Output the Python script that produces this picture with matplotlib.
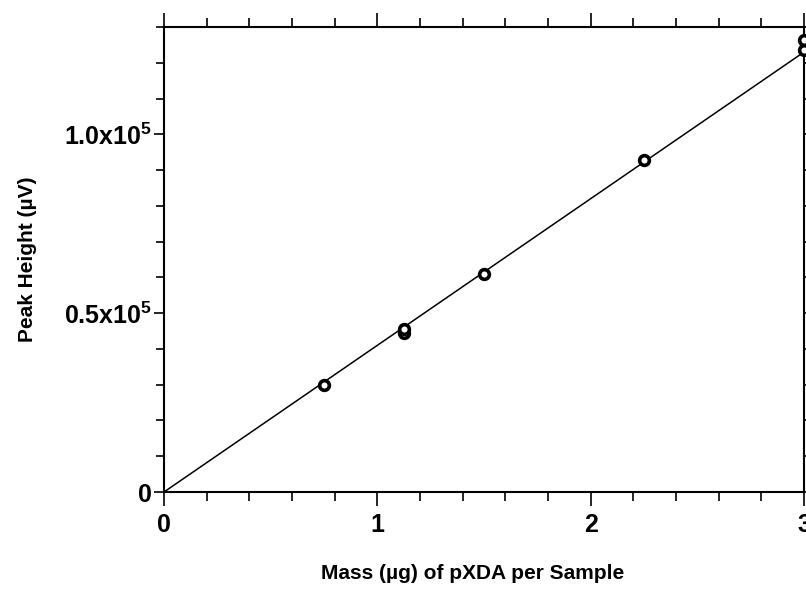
#!/usr/bin/env python3
"""Calibration curve: peak height vs. mass of pXDA per sample."""

import matplotlib
matplotlib.use("Agg")
import matplotlib.pyplot as plt
import matplotlib.ticker as mticker

plt.rcParams["font.family"] = ["Liberation Sans", "DejaVu Sans"]
plt.rcParams["font.weight"] = "bold"
plt.rcParams["mathtext.fontset"] = "custom"
plt.rcParams["mathtext.rm"] = "Liberation Sans:bold"
plt.rcParams["mathtext.it"] = "Liberation Sans:bold"
plt.rcParams["mathtext.bf"] = "Liberation Sans:bold"

# measured standards (mass in ug, peak height in uV)
mass = [0.75, 1.125, 1.125, 1.5, 2.25, 3.0, 3.0]
peak = [0.30e5, 0.445e5, 0.457e5, 0.61e5, 0.927e5, 1.236e5, 1.264e5]

# least-squares line through the origin
fit_x = [0.0, 3.0]
fit_y = [0.0, 1.23e5]

x_ticks = [0, 1, 2, 3]
y_ticks = [0, 0.5e5, 1.0e5]
y_tick_labels = ["0", r"0.5x10$^5$", r"1.0x10$^5$"]


def main():
    fig = plt.figure(figsize=(8.06, 5.95), dpi=100)
    ax = fig.add_axes([164 / 806, 1 - 492 / 595, 640 / 806, 465 / 595])

    ax.plot(fit_x, fit_y, color="black", linewidth=1.1, zorder=2)
    ax.plot(mass, peak, linestyle="none", marker="o", ms=7,
            mfc="white", mec="black", mew=2.6, clip_on=False, zorder=3)

    ax.set_xlim(0, 3)
    ax.set_ylim(0, 1.3e5)
    ax.set_xticks(x_ticks)
    ax.set_xticklabels([str(t) for t in x_ticks])
    ax.set_yticks(y_ticks)
    ax.set_yticklabels(y_tick_labels)
    ax.xaxis.set_minor_locator(mticker.MultipleLocator(0.2))
    ax.yaxis.set_minor_locator(mticker.MultipleLocator(1e4))

    for s in ax.spines.values():
        s.set_linewidth(1.5)
    ax.tick_params(axis="both", which="both", direction="out",
                   top=True, right=True, width=1.2, labelsize=18)
    ax.tick_params(axis="x", which="major", length=10, pad=5)
    ax.tick_params(axis="x", which="minor", length=6.5)
    ax.tick_params(axis="y", which="major", length=7, pad=2)
    ax.tick_params(axis="y", which="minor", length=6)

    ax.set_xlabel("Mass (\u00b5g) of pXDA per Sample", fontsize=15,
                  fontweight="bold")
    ax.xaxis.set_label_coords(0.483, -0.155)
    ax.set_ylabel("Peak Height (\u00b5V)", fontsize=15, fontweight="bold")
    ax.yaxis.set_label_coords(-0.198, 0.5)

    fig.savefig("out.png", dpi=100)


if __name__ == "__main__":
    main()
